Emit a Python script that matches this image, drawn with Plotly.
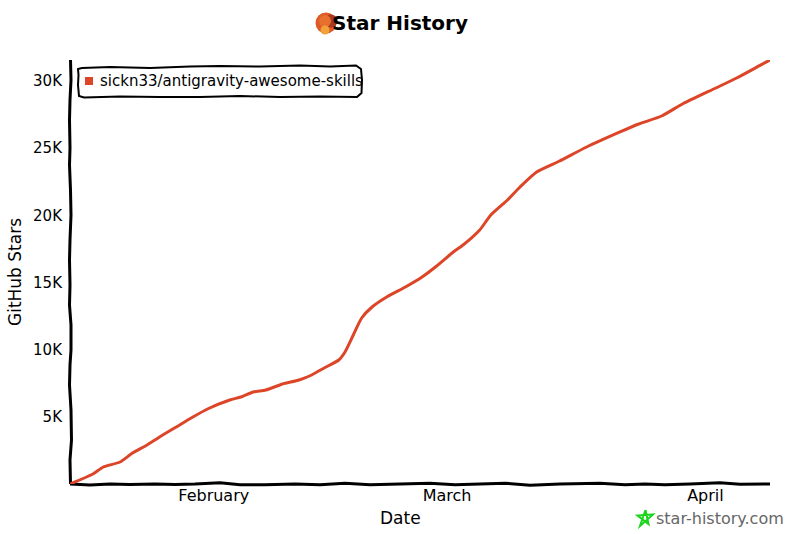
import plotly.graph_objects as go

# ---- data ----
dates = ["2026-01-14 18:00","2026-01-17 12:00","2026-01-18 18:00","2026-01-20 18:00","2026-01-22 06:00",
         "2026-01-24 00:00","2026-01-25 12:00","2026-01-27 12:00","2026-01-29 12:00","2026-01-31 06:00",
         "2026-02-02 22:00","2026-02-04 06:00","2026-02-05 18:00","2026-02-07 06:00","2026-02-09 06:00",
         "2026-02-11 06:00","2026-02-12 18:00","2026-02-14 06:00","2026-02-16 00:00","2026-02-16 18:00",
         "2026-02-17 18:00","2026-02-18 18:00","2026-02-20 00:00","2026-02-21 18:00","2026-02-24 00:00",
         "2026-02-26 00:00","2026-02-27 18:00","2026-03-01 18:00","2026-03-02 22:00","2026-03-04 22:00",
         "2026-03-06 06:00","2026-03-08 06:00","2026-03-09 18:00","2026-03-11 18:00","2026-03-14 12:00",
         "2026-03-17 18:00","2026-03-21 18:00","2026-03-24 00:00","2026-03-26 18:00","2026-03-29 06:00",
         "2026-04-02 06:00","2026-04-04 18:00","2026-04-07 12:00","2026-04-08 18:00"]
stars = [0,745,1266,1638,2308,2904,3500,4244,4989,5585,6255,6478,6850,7000,7446,
         7744,8116,8637,9233,9829,11095,12360,13180,13924,14669,15413,16232,17275,
         17796,18913,20030,21147,22115,23232,24051,25093,26210,26806,27400,28295,
         29486,30231,31150,31570]
series_name = "sickn33/antigravity-awesome-skills"
y_ticks = [5000, 10000, 15000, 20000, 25000, 30000]
y_labels = ["5K", "10K", "15K", "20K", "25K", "30K"]
x_ticks = ["2026-02-01", "2026-03-01", "2026-04-01"]
x_labels = ["February", "March", "April"]

FONT = "DejaVu Sans"
RED = "#dd4528"
L, T, W, H = 70, 60, 700, 424

def px(x, y):
    return (x - L) / W, (T + H - y) / H

def path(points, close=False):
    s = ""
    for i, (x, y) in enumerate(points):
        a, b = px(x, y)
        s += ("M" if i == 0 else "L") + f"{a:.5f},{b:.5f} "
    return s + ("Z" if close else "")

def shape_path(points, color="black", width=3, fill=None, close=False):
    return dict(type="path", xref="paper", yref="paper", path=path(points, close),
                line=dict(color=color, width=width), fillcolor=fill, layer="below")

def circle(cx, cy, r, fill):
    x0, y0 = px(cx - r, cy + r)
    x1, y1 = px(cx + r, cy - r)
    return dict(type="circle", xref="paper", yref="paper", x0=x0, x1=x1, y0=y0, y1=y1,
                fillcolor=fill, line=dict(width=0), layer="below")

# hand-drawn axis wobble (pixels)
y_axis = [(70.5,60),(71,80),(70,100),(69.5,120),(70,148),(69.5,165),(70.5,190),(71,215),(70,240),(69.5,260),
          (70,285),(69.5,305),(71,325),(71,350),(70,365),(69.5,385),(71,410),(71.5,440),(70,460),(70.5,484)]
x_axis = [(70,484),(90,485),(110,484),(130,484.5),(155,484),(175,484.5),(195,484),(220,482.8),(240,484.8),
          (265,484.8),(295,484),(320,484.8),(345,483.2),(370,484.8),(400,484),(430,483.2),(455,484.8),
          (480,484),(505,483.2),(530,485.2),(560,484),(600,483.2),(625,484.8),(645,484),(665,484.8),
          (690,484),(720,482.8),(740,484.3),(770,484)]
box = [(82,68),(110,67),(150,68),(190,66.5),(220,66),(260,66.5),(300,65.5),(330,66.5),(356,65.5),
       (361,69),(362,80),(361.5,93),(357,97),(320,96.5),(280,97),(240,96),(200,97),(160,97),(120,96.5),
       (84,97.5),(79,96),(78,85),(78.5,75),(78,69)]
star_pts = [(645.5,510),(648.5,524),(637.5,515.5),(653,514.5),(640,526),(645.5,510)]

shapes = [
    shape_path(y_axis, width=3), shape_path(x_axis, width=3),
    shape_path(box, width=2, close=True),
    shape_path(star_pts, color="#19d419", width=2),
    circle(326, 23, 10.5, "#e05a28"),
    circle(331, 21, 6.5, "#a83a20"),
    circle(325, 21, 6, "#e8702f"),
    circle(325, 30, 4.5, "#f3a23a"),
    dict(type="rect", xref="paper", yref="paper",
         x0=px(85,0)[0], x1=px(93,0)[0], y0=px(0,85)[1], y1=px(0,77)[1],
         fillcolor=RED, line=dict(width=0), layer="below"),
]

fig = go.Figure(go.Scatter(x=dates, y=stars, name=series_name, mode="lines",
                           line=dict(color=RED, width=3, shape="spline", smoothing=0.6),
                           showlegend=False, hoverinfo="skip"))

annotations = [
    dict(text=series_name, xref="paper", yref="paper", x=px(97.5,0)[0], y=px(0,81)[1],
         xanchor="left", yanchor="middle", showarrow=False, font=dict(family=FONT, size=15, color="black")),
    dict(text="star-history.com", xref="paper", yref="paper", x=px(654,0)[0], y=px(0,518)[1],
         xanchor="left", yanchor="middle", showarrow=False, font=dict(family=FONT, size=16, color="#666666")),
    dict(text="Date", xref="paper", yref="paper", x=px(400,0)[0], y=px(0,518)[1],
         xanchor="center", yanchor="middle", showarrow=False, font=dict(family=FONT, size=17, color="black")),
]

fig.update_layout(
    width=800, height=534, autosize=False,
    margin=dict(l=L, r=800 - L - W, t=T, b=534 - T - H, pad=0),
    paper_bgcolor="white", plot_bgcolor="white", showlegend=False,
    font=dict(family=FONT, size=15, color="black"),
    title=dict(text="<b>Star History</b>", x=0.5, xanchor="center", y=1 - 23 / 534, yanchor="middle",
               font=dict(family=FONT, size=20, color="black")),
    xaxis=dict(type="date", range=["2026-01-14 18:00", "2026-04-08 18:00"], tickmode="array",
               tickvals=x_ticks, ticktext=x_labels, showgrid=False, zeroline=False, showline=False,
               ticks="", tickfont=dict(family=FONT, size=16)),
    yaxis=dict(range=[0, 31570], tickmode="array", tickvals=y_ticks, ticktext=y_labels,
               showgrid=False, zeroline=False, showline=False, ticks="", ticklabelstandoff=7,
               tickfont=dict(family=FONT, size=15),
               title=dict(text="GitHub Stars", standoff=7, font=dict(family=FONT, size=17))),
    shapes=shapes, annotations=annotations,
)
fig.write_html("out.html", config={"displayModeBar": False}, post_script="document.body.style.margin='0';")
